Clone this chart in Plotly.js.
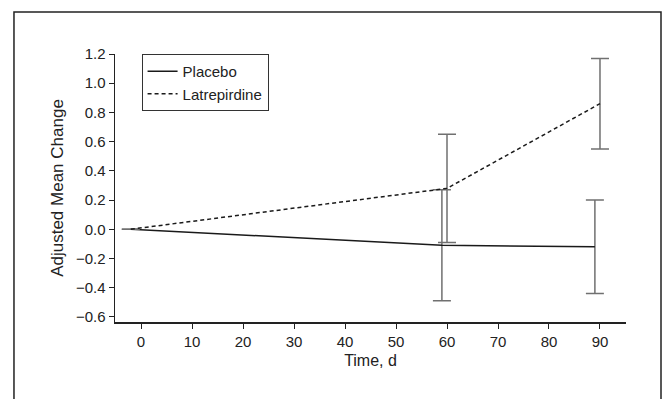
<!DOCTYPE html>
<html>
<head>
<meta charset="utf-8">
<script src="https://cdn.plot.ly/plotly-3.0.1.min.js"></script>
<style>html,body{margin:0;padding:0;background:#fff;}#chart{width:662px;height:399px;}</style>
</head>
<body>
<div id="chart"></div>
<script>
// Data
var placeboDays = [-2, 59, 89];
var placeboMean = [0, -0.11, -0.12];
var placeboErr = [null, 0.38, 0.32];

var latrepDays = [-2, 60, 90];
var latrepMean = [0, 0.28, 0.86];
var latrepErr = [null, 0.37, 0.31];

var xTicks = [0, 10, 20, 30, 40, 50, 60, 70, 80, 90];
var yTicks = [-0.6, -0.4, -0.2, 0.0, 0.2, 0.4, 0.6, 0.8, 1.0, 1.2];

var FONT = '"Liberation Sans", Arial, sans-serif';

var traces = [
  {
    x: placeboDays, y: placeboMean, name: 'Placebo', type: 'scatter', mode: 'lines',
    line: {color: '#1a1a1a', width: 1.5},
    error_y: {type: 'data', array: placeboErr, visible: true, color: '#707070', thickness: 1.5, width: 9}
  },
  {
    x: latrepDays, y: latrepMean, name: 'Latrepirdine', type: 'scatter', mode: 'lines',
    line: {color: '#1a1a1a', width: 1.5, dash: '4px,3px'},
    error_y: {type: 'data', array: latrepErr, visible: true, color: '#707070', thickness: 1.5, width: 9}
  }
];

var layout = {
  width: 662, height: 399,
  margin: {l: 115, r: 36, t: 54, b: 77},
  paper_bgcolor: '#fff', plot_bgcolor: '#fff',
  font: {family: FONT, size: 15, color: '#222'},
  showlegend: true,
  legend: {
    x: 0.052, y: 1.0, xanchor: 'left', yanchor: 'top',
    bordercolor: '#333', borderwidth: 1, bgcolor: '#fff',
    font: {family: FONT, size: 15, color: '#222'},
    itemwidth: 30, tracegroupgap: 0
  },
  xaxis: {
    range: [-5.1, 95.1], tickvals: xTicks, ticktext: xTicks.map(String),
    showgrid: false, zeroline: false, showline: true, linecolor: '#222', linewidth: 1.5,
    ticks: 'outside', ticklen: 5, tickcolor: '#222', tickwidth: 1,
    tickfont: {family: FONT, size: 15, color: '#222'},
    title: {text: 'Time, d', font: {family: FONT, size: 16, color: '#222'}, standoff: 6}
  },
  yaxis: {
    range: [-0.635, 1.2], tickvals: yTicks, ticktext: yTicks.map(function(v){ return (v < 0 ? '\u2212' : '') + Math.abs(v).toFixed(1); }),
    showgrid: false, zeroline: false, showline: true, linecolor: '#222', linewidth: 1.5,
    ticks: 'outside', ticklen: 5, tickcolor: '#222', tickwidth: 1,
    tickfont: {family: FONT, size: 15, color: '#222'},
    title: {text: 'Adjusted Mean Change', font: {family: FONT, size: 17, color: '#222'}, standoff: 8}
  },
  shapes: [
    {type: 'rect', xref: 'paper', yref: 'paper', x0: -0.1977, x1: 1.0685, y0: -0.35, y1: 1.1567,
     line: {color: '#222', width: 1.5}, fillcolor: 'rgba(0,0,0,0)', layer: 'below'}
  ]
};

Plotly.newPlot('chart', traces, layout, {displayModeBar: false, staticPlot: true});
</script>
</body>
</html>
